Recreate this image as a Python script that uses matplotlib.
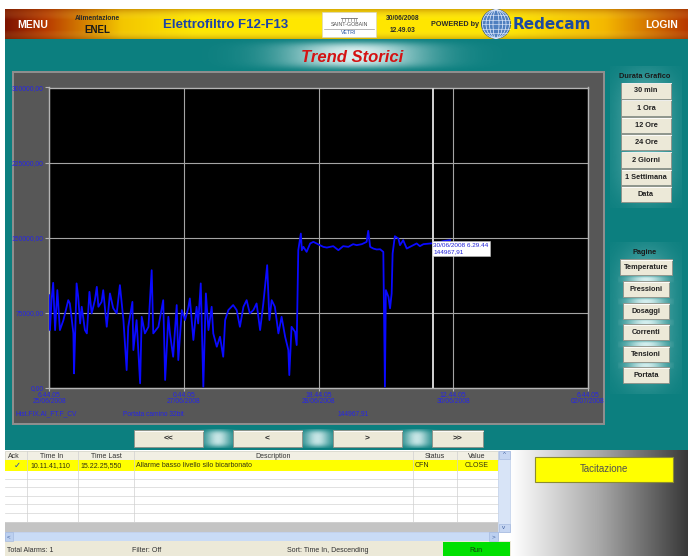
import numpy as np
import matplotlib
matplotlib.use('Agg')
import matplotlib.pyplot as plt
from matplotlib.patches import Rectangle, Circle, Ellipse
from matplotlib.colors import LinearSegmentedColormap, to_rgb

# ---------------- data (hours since 25/06/2008 6.44.05, value) ----------------
hours = [0.0, 0.3, 0.8, 1.3, 1.9, 2.6, 3.4, 4.5, 6.0, 6.5, 7.6, 7.8, 8.6, 9.1, 9.7,
         10.2, 11.2, 11.8, 12.6, 13.3, 14.3, 14.9, 15.4, 16.4, 16.9, 17.5, 18.0, 19.0,
         20.0, 21.1, 22.1, 23.2, 24.2, 24.7, 26.0, 26.3, 27.3, 28.4, 28.9, 29.9, 31.0,
         32.0, 32.5, 34.1, 35.6, 36.2, 37.2, 37.7, 38.7, 39.8, 40.3, 41.4, 42.4, 43.4,
         43.9, 45.0, 46.0, 46.5, 47.3, 48.1, 48.9, 49.7, 50.7, 51.2, 52.3, 53.3, 54.3,
         54.9, 55.9, 57.4, 58.5, 59.5, 60.6, 61.6, 62.6, 63.7, 64.7, 65.8, 66.8, 68.0,
         68.7, 69.4, 70.4, 71.5, 72.5, 73.6, 74.6, 74.9, 75.6, 76.7, 77.2, 77.7, 78.5,
         78.8, 79.3, 80.3, 81.4, 82.4, 83.4, 84.5, 85.5, 86.6, 87.6, 88.6, 90.2, 91.7,
         93.3, 94.8, 95.9, 97.5, 99.0, 99.5, 100.1, 101.1, 102.1, 103.2, 104.2, 104.7,
         105.0, 105.8, 106.3, 106.8, 107.1, 107.8, 108.9, 109.4, 110.4, 111.5, 112.5,
         114.6, 115.6, 116.7, 118.8, 120.8, 122.9, 125.0]
values = [92700, 57800, 88000, 105000, 57800, 97700, 57800, 67800, 87700, 84400, 54500,
          14600, 104400, 91000, 64400, 81100, 57800, 54500, 96000, 74400, 87700, 101000,
          81100, 86000, 97700, 77800, 61100, 94400, 79800, 74400, 102700, 67800, 17900,
          61100, 86000, 37900, 67800, 4700, 71100, 54500, 61100, 117600, 54500, 61100,
          87700, 8000, 71100, 54500, 31200, 82800, 27900, 77800, 67800, 79800, 89400,
          47900, 81100, 64400, 104400, 1300, 94400, 57800, 81100, 54500, 41200, 51200,
          31200, 67800, 77800, 82800, 77800, 61100, 81100, 87700, 74400, 77800, 84400,
          57800, 84400, 122600, 67800, 87700, 81100, 54500, 71100, 51200, 37900, 12900,
          61100, 56100, 42900, 137600, 154200, 137600, 140900, 135900, 144300, 145900,
          144300, 142600, 140900, 140200, 140900, 141600, 137600, 141600, 140900, 143600,
          142600, 143600, 145900, 156900, 140900, 139200, 138300, 138500, 135900, 1300,
          97700, 91000, 79500, 94400, 134300, 151500, 149200, 142600, 147600, 139200,
          140900, 144300, 141600, 143600, 144300, 144900, 146600, 147600]

y_ticks = [0, 75000, 150000, 225000, 300000]
y_tick_labels = ['0,00', '75000,00', '150000,00', '225000,00', '300000,00']
x_ticks = [0, 42, 84, 126, 168]
x_tick_labels = ['6.44.05\n25/06/2008', '0.44.05\n27/06/2008', '18.44.05\n28/06/2008',
                 '12.44.05\n30/06/2008', '6.44.05\n02/07/2008']
cursor_hour = 119.76
cursor_value = 144967.91
cursor_label = '30/06/2008 6.29.44\n144967,91'
tag_name = 'Hist.FIX.AI_FT.F_CV'
tag_desc = 'Portata camino 32bit'
tag_value = '144967,91'

durata_title = 'Durata Grafico'
durata_buttons = ['30 min', '1 Ora', '12 Ore', '24 Ore', '2 Giorni', '1 Settimana', 'Data']
pagine_title = 'Pagine'
pagine_buttons = ['Temperature', 'Pressioni', 'Dosaggi', 'Correnti', 'Tensioni', 'Portata']
nav_buttons = ['<<', '<', '>', '>>']
table_columns = ['Ack', 'Time In', 'Time Last', 'Description', 'Status', 'Value']
alarm_row = ['\u2713', '10.11.41,110', '15.22.25,550',
             'Allarme basso livello silo bicarbonato', 'CFN', 'CLOSE']
status_texts = ['Total Alarms: 1', 'Filter: Off', 'Sort: Time In, Descending', 'Run']

# ---------------- figure ----------------
W, H = 688, 556
NARROW = ['Liberation Sans Narrow', 'Liberation Sans', 'DejaVu Sans']
SANS = ['Liberation Sans', 'DejaVu Sans']
plt.rcParams['font.family'] = NARROW

fig = plt.figure(figsize=(W / 100, H / 100), dpi=100)
fig.patch.set_facecolor('white')
bg = fig.add_axes([0, 0, 1, 1])
bg.axis('off')

TEAL = '#0c7f7f'


def rect(x0, y0, x1, y1, fc, ec='none', lw=0.0, z=1):
    bg.add_patch(Rectangle((x0, y0), x1 - x0, y1 - y0, facecolor=fc,
                           edgecolor=ec, linewidth=lw, zorder=z))


def hgrad(x0, y0, x1, y1, stops, z=1, vertical=False):
    cmap = LinearSegmentedColormap.from_list('g', stops)
    arr = np.linspace(0, 1, 256)
    arr = arr.reshape(-1, 1) if vertical else arr.reshape(1, -1)
    bg.imshow(arr, extent=(x0, x1, y1, y0), aspect='auto', cmap=cmap,
              interpolation='bilinear', zorder=z)


def glow(x0, y0, x1, y1, color, amax, sx, sy, z=2):
    xs = np.linspace(-1, 1, 200)
    ys = np.linspace(-1, 1, 60)
    a = amax * np.outer(np.exp(-(ys / sy) ** 4), np.exp(-(xs / sx) ** 2))
    rgba = np.zeros((60, 200, 4))
    rgba[..., :3] = to_rgb(color)
    rgba[..., 3] = np.clip(a, 0, 1)
    bg.imshow(rgba, extent=(x0, x1, y1, y0), aspect='auto',
              interpolation='bilinear', zorder=z)


def button(x0, y0, x1, y1, label, fs=5.5, bold=True, z=5, color='#202020'):
    rect(x0, y0, x1, y1, '#ece9d8', ec='#8f8f86', lw=0.6, z=z)
    bg.plot([x0 + 0.5, x1 - 0.5], [y0 + 0.6, y0 + 0.6], color='white', lw=0.6, zorder=z + 0.1)
    bg.text((x0 + x1) / 2, (y0 + y1) / 2 + 0.3, label, ha='center', va='center',
            fontsize=fs, fontweight='bold' if bold else 'normal', color=color, zorder=z + 0.2)


# teal background
rect(5, 39, W, 450, TEAL, z=0.5)

# header gradient
hgrad(5, 9, W, 39, [(0, '#7e1400'), (0.06, '#b83c00'), (0.17, '#f3c600'), (0.28, '#ffe800'),
                    (0.74, '#ffe600'), (0.88, '#f4b800'), (1, '#b83a00')], z=1)
hgrad(5, 9, W, 39, [(0, (0.55, 0.2, 0.0, 0.35)), (0.35, (1, 1, 0.6, 0.0)),
                    (0.7, (1, 1, 0.6, 0.0)), (1, (0.5, 0.25, 0.0, 0.3))], z=1.1, vertical=True)

bg.text(33, 24.5, 'MENU', ha='center', va='center', fontsize=7.5, fontweight='bold',
        color='white', family=SANS, zorder=3)
bg.text(97, 18, 'Alimentazione', ha='center', va='center', fontsize=4.8,
        fontweight='bold', color='#2a2a2a', zorder=3)
bg.text(97, 30, 'ENEL', ha='center', va='center', fontsize=7, fontweight='bold',
        color='#1a1a1a', family=SANS, zorder=3)
bg.text(226, 25, 'Elettrofiltro F12-F13', ha='center', va='center', fontsize=9.5,
        fontweight='bold', color='#1c43a8', family=SANS, zorder=3)

# Saint-Gobain logo box
rect(322, 12, 376, 37, 'white', ec='#d0d0d0', lw=0.4, z=3)
bg.plot([341, 357], [17.5, 17.5], color='#707070', lw=0.6, zorder=3.1)
for xx in (342, 345, 348, 351, 354, 356):
    bg.plot([xx, xx], [17.5, 20.5], color='#707070', lw=0.4, zorder=3.1)
bg.text(349, 24, 'SAINT-GOBAIN', ha='center', va='center', fontsize=3.8,
        color='#505050', zorder=3.2)
bg.plot([324, 374], [28.5, 28.5], color='#9a9a9a', lw=0.5, zorder=3.1)
bg.text(349, 32.5, 'VETRI', ha='center', va='center', fontsize=3.8,
        color='#2050a0', zorder=3.2)

bg.text(403, 18.5, '30/06/2008', ha='center', va='center', fontsize=4.8,
        fontweight='bold', color='#2a2a2a', zorder=3)
bg.text(403, 30, '12.49.03', ha='center', va='center', fontsize=4.8,
        fontweight='bold', color='#2a2a2a', zorder=3)
bg.text(455, 24, 'POWERED by', ha='center', va='center', fontsize=5.2,
        fontweight='bold', color='#2a2a2a', zorder=3)

# globe
bg.add_patch(Circle((496, 24), 14.5, facecolor='#4f7fbf', edgecolor='#2c5590',
                    lw=0.6, zorder=3))
for w in (6, 13, 20, 27):
    bg.add_patch(Ellipse((496, 24), w, 28.5, facecolor='none', edgecolor='#e8f0ff',
                         lw=0.5, zorder=3.1))
for dy in (-9, -4.5, 0, 4.5, 9):
    half = np.sqrt(max(14.5 ** 2 - dy ** 2, 0))
    bg.plot([496 - half, 496 + half], [24 + dy, 24 + dy], color='#e8f0ff', lw=0.4, zorder=3.1)
bg.text(552, 24.5, 'Redecam', ha='center', va='center', fontsize=11, fontweight='bold',
        color='#1c4aa0', family=['DejaVu Sans'], zorder=3)
bg.text(662, 24.5, 'LOGIN', ha='center', va='center', fontsize=7.5, fontweight='bold',
        color='white', family=SANS, zorder=3)

# Trend Storici banner
glow(170, 39, 540, 71, '#e6f6f6', 0.95, 0.38, 0.8, z=1.5)
bg.text(352, 57, 'Trend Storici', ha='center', va='center', fontsize=12,
        fontweight='bold', style='italic', color='#d41212', zorder=3)

# gray chart panel
rect(12, 71, 605, 425, '#8e8e8e', z=1.6)
rect(14, 73, 603, 423, '#575757', z=1.7)

# right panel glows & buttons
glow(610, 66, 682, 208, '#b8e0e0', 0.5, 0.75, 0.9, z=1.5)
glow(610, 242, 682, 394, '#b8e0e0', 0.5, 0.75, 0.9, z=1.5)
bg.text(645, 77, durata_title, ha='center', va='center', fontsize=5.3,
        fontweight='bold', color='#1a1a1a', zorder=4)
for i, lab in enumerate(durata_buttons):
    yc = 90.5 + i * 17.3
    button(621, yc - 8, 671, yc + 8, lab, fs=5.3)
bg.text(645, 253, pagine_title, ha='center', va='center', fontsize=5.3,
        fontweight='bold', color='#1a1a1a', zorder=4)
pag_y = [267, 289, 311, 332, 354, 375]
for i, lab in enumerate(pagine_buttons):
    yc = pag_y[i]
    if i > 0:
        glow(618, yc - 14, 674, yc - 5, '#f2ffff', 0.8, 0.6, 0.7, z=2)
    x0, x1 = (620, 672) if i == 0 else (623, 669)
    button(x0, yc - 8, x1, yc + 8, lab, fs=5.3)

# nav buttons
nav_x = [(134, 203), (233, 302), (333, 402), (432, 483)]
for (a0, a1), (b0, b1) in zip(nav_x[:-1], nav_x[1:]):
    glow(a1 - 8, 429, b0 + 8, 448, '#e8f8f8', 0.85, 0.55, 0.9, z=2)
for (x0, x1), lab in zip(nav_x, nav_buttons):
    button(x0, 430, x1, 447, lab, fs=6, bold=True, color='#202020')

# bottom right gradient
hgrad(511, 450, W, 556, [(0, '#ffffff'), (0.08, '#f2f2f2'), (0.5, '#a8a8a8'),
                          (1, '#383838')], z=1)
rect(535, 457, 673, 482, '#ffff00', ec='#8c8c30', lw=0.8, z=3)
bg.text(604, 469.5, 'Tacitazione', ha='center', va='center', fontsize=7,
        color='#505050', zorder=4)

# alarm table
tx = [5, 27, 78, 134, 413, 457, 498]
rect(5, 450, 511, 556, 'white', z=1)
rect(5, 451, 498, 460, '#f1efe4', ec='#c8c6b8', lw=0.4, z=2)
rect(5, 460, 498, 470.5, '#ffff00', z=2)
row_lines = [478.6, 487.2, 495.8, 504.4, 513.0, 521.6]
for yl in row_lines:
    bg.plot([5, 498], [yl, yl], color='#d4d4d4', lw=0.5, zorder=2.5)
for xl in tx[1:-1]:
    bg.plot([xl, xl], [451, 521.6], color='#d0d0d0', lw=0.5, zorder=2.5)
rect(5, 521.6, 498, 532, '#c4c4c4', z=2)
hdr_pos = [(8, 'left'), (52, 'center'), (106, 'center'), (273, 'center'),
           (435, 'center'), (477, 'center')]
for (xp, ha), lab in zip(hdr_pos, table_columns):
    bg.text(xp, 456, lab, ha=ha, va='center', fontsize=5, color='#303030', zorder=3)
row_pos = [(17, 'center'), (30, 'left'), (80, 'left'), (136, 'left'), (415, 'left'),
           (477, 'center')]
for i, ((xp, ha), lab) in enumerate(zip(row_pos, alarm_row)):
    bg.text(xp, 465.5, lab, ha=ha, va='center',
            fontsize=6 if i == 0 else 5, color='#1a3fc0' if i == 0 else '#303010',
            family=['DejaVu Sans'] if i == 0 else NARROW, zorder=3)
# scrollbars
rect(498, 451, 510, 532, '#d8e4f7', ec='#b4c6e6', lw=0.4, z=2)
rect(498.5, 451, 509.5, 459, '#c6d6f2', ec='#9fb4dc', lw=0.4, z=2.2)
rect(498.5, 524, 509.5, 532, '#c6d6f2', ec='#9fb4dc', lw=0.4, z=2.2)
bg.text(504, 455, '^', ha='center', va='center', fontsize=4.5, color='#4060a0', zorder=3)
bg.text(504, 527.5, 'v', ha='center', va='center', fontsize=4.5, color='#4060a0', zorder=3)
rect(5, 532, 498, 541, '#c9dbf6', ec='#a8bde3', lw=0.4, z=2)
rect(5, 532, 13, 541, '#bcd0f0', ec='#9fb4dc', lw=0.4, z=2.2)
rect(489, 532, 498, 541, '#bcd0f0', ec='#9fb4dc', lw=0.4, z=2.2)
bg.text(9, 536.5, '<', ha='center', va='center', fontsize=4.5, color='#4060a0', zorder=3)
bg.text(493.5, 536.5, '>', ha='center', va='center', fontsize=4.5, color='#4060a0', zorder=3)
rect(5, 541, 511, 556, '#ece9d8', z=2)
rect(443, 542, 510, 556, '#00e000', z=2.2)
for xp, lab in zip([7, 132, 287], status_texts[:3]):
    bg.text(xp, 551, lab, ha='left', va='center', fontsize=5, color='#303030', zorder=3)
bg.text(476, 551, status_texts[3], ha='center', va='center', fontsize=5,
        color='#104010', zorder=3)

# panel bottom texts
BLUE_TXT = '#2626e6'
bg.text(15, 414, tag_name, ha='left', va='center', fontsize=4.8, color=BLUE_TXT, zorder=3)
bg.text(123, 414, tag_desc, ha='left', va='center', fontsize=4.8, color=BLUE_TXT, zorder=3)
bg.text(338, 414, tag_value, ha='left', va='center', fontsize=4.8, color=BLUE_TXT, zorder=3)

bg.set_xlim(0, W)
bg.set_ylim(H, 0)

# ---------------- trend chart ----------------
L, R, T, B = 49, 588, 87.5, 388
ax = fig.add_axes([L / W, (H - B) / H, (R - L) / W, (B - T) / H])
ax.set_facecolor('black')
ax.plot(hours, values, color='#0a0aff', lw=1.3, zorder=3)
ax.set_xlim(0, 168)
ax.set_ylim(0, 300000)
ax.set_xticks(x_ticks)
ax.set_xticklabels(x_tick_labels, linespacing=0.85)
ax.set_yticks(y_ticks)
ax.set_yticklabels(y_tick_labels)
ax.grid(True, color='#a4a4a4', lw=0.8, zorder=1)
ax.set_axisbelow(True)
for s in ax.spines.values():
    s.set_color('#b4b4b4')
    s.set_linewidth(1.0)
ax.tick_params(axis='y', length=3, width=0.8, color='#b4b4b4', pad=1,
               labelsize=4.9, labelcolor=BLUE_TXT)
ax.tick_params(axis='x', length=2, width=0.8, color='#b4b4b4', pad=1,
               labelsize=4.9, labelcolor=BLUE_TXT)
ax.axvline(cursor_hour, color='#d4d4d4', lw=1.4, zorder=4)
ax.text(cursor_hour, cursor_value, cursor_label, ha='left', va='top', fontsize=4.6,
        color='#2020d8', linespacing=1.3, zorder=5,
        bbox=dict(boxstyle='square,pad=0.25', facecolor='white', edgecolor='#c0c0c0', lw=0.4))

fig.savefig('out.png', dpi=100, facecolor=fig.get_facecolor())
